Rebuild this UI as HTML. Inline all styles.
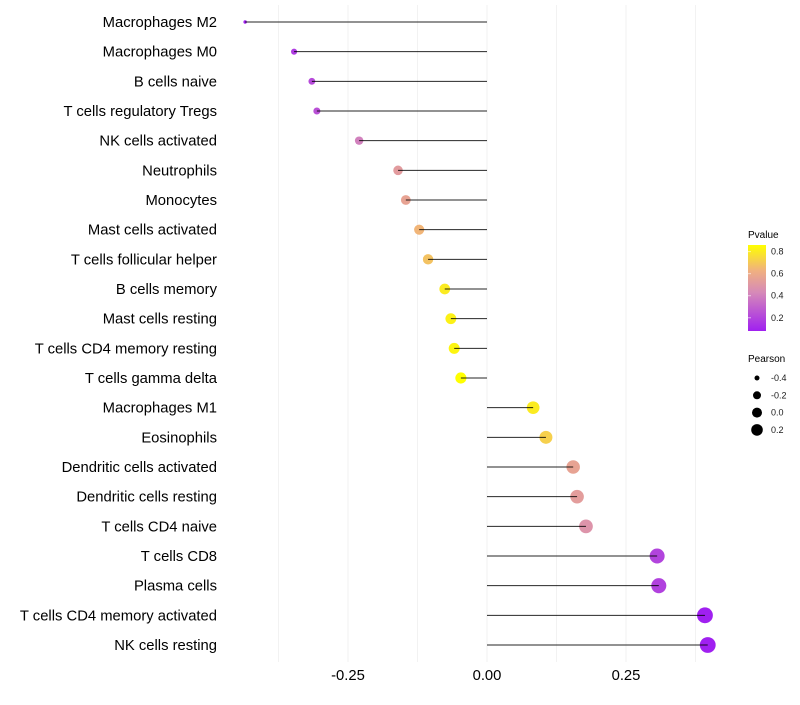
<!DOCTYPE html>
<html><head><meta charset="utf-8"><style>
body{margin:0;background:#fff;}
svg text{font-family:"Liberation Sans",sans-serif;}
</style></head><body>
<svg id="chart" width="800" height="700" xmlns="http://www.w3.org/2000/svg">
<defs><linearGradient id="pg" x1="0" y1="1" x2="0" y2="0">
<stop offset="0" stop-color="#A020F0"/><stop offset="0.45" stop-color="#D68AB8"/><stop offset="0.7" stop-color="#F0B080"/><stop offset="1" stop-color="#FFFF00"/></linearGradient></defs>
<g id="grid"></g>
<g id="marks"></g>
<g id="ylabels"></g>
<g id="xlabels"></g>
<g>
<text x="748" y="238" font-size="10">Pvalue</text>
<rect x="748" y="245" width="18" height="86" fill="url(#pg)"/>
<g id="pleg"></g>
</g>
<g>
<text x="748" y="362" font-size="10">Pearson</text>
<g id="sleg"></g>
</g>
</svg>
<script>
const categories=["Macrophages M2","Macrophages M0","B cells naive","T cells regulatory  Tregs","NK cells activated","Neutrophils","Monocytes","Mast cells activated","T cells follicular helper","B cells memory","Mast cells resting","T cells CD4 memory resting","T cells gamma delta","Macrophages M1","Eosinophils","Dendritic cells activated","Dendritic cells resting","T cells CD4 naive","T cells CD8","Plasma cells","T cells CD4 memory activated","NK cells resting"];
const pearson=[-0.435,-0.347,-0.315,-0.306,-0.230,-0.160,-0.146,-0.122,-0.106,-0.076,-0.065,-0.059,-0.047,0.083,0.106,0.155,0.162,0.178,0.306,0.309,0.392,0.397];
const pvalue=[0.05,0.17,0.22,0.24,0.4,0.52,0.56,0.64,0.68,0.8,0.82,0.83,0.88,0.8,0.72,0.56,0.53,0.48,0.2,0.19,0.08,0.07];
const xTicks=[-0.25,0,0.25];
const xTickLabels=["-0.25","0.00","0.25"];
const xMinor=[-0.375,-0.125,0.125,0.375];
const pLegVals=[0.8,0.6,0.4,0.2];
const sLegVals=[-0.4,-0.2,0.0,0.2];
const sLegLabels=["-0.4","-0.2","0.0","0.2"];
const NS="http://www.w3.org/2000/svg";
const X=v=>487+v*556;
const Y=i=>22+i*(623/21);
const R=v=>Math.sqrt(3+Math.max(0,(v+0.435)/0.832)*60);
function hex(c){return c.map(x=>Math.round(x).toString(16).padStart(2,'0')).join('');}
const stops=[[0,[160,32,240]],[0.45,[214,138,184]],[0.7,[240,176,128]],[1,[255,255,0]]];
function col(p){let t=(p-0.08)/(0.86-0.08);t=Math.max(0,Math.min(1,t));
for(let k=0;k<stops.length-1;k++){const a=stops[k],b=stops[k+1];if(t<=b[0]){const f=(t-a[0])/(b[0]-a[0]);return '#'+hex(a[1].map((c,j)=>c+(b[1][j]-c)*f));}}return '#ffff00';}
function mk(tag,attrs,parent){const e=document.createElementNS(NS,tag);for(const k in attrs)e.setAttribute(k,attrs[k]);parent.appendChild(e);return e;}
const grid=document.getElementById('grid');
xMinor.concat(xTicks).forEach(v=>{const l=mk('line',{x1:X(v),x2:X(v),y1:5,y2:662,stroke:'#f2f2f2','stroke-width':1},grid);

});
const marks=document.getElementById('marks'),yl=document.getElementById('ylabels'),xl=document.getElementById('xlabels');
categories.forEach((c,i)=>{
const pt=mk('circle',{cx:X(pearson[i]),cy:Y(i),r:R(pearson[i]),fill:col(pvalue[i])},marks);


const ln=mk('line',{x1:X(0),x2:X(pearson[i]),y1:Y(i),y2:Y(i),stroke:'#000','stroke-width':1,'stroke-opacity':0.85},marks);


const t=mk('text',{x:217,y:Y(i)+5,'font-size':14.8,'text-anchor':'end',fill:'#000','xml:space':'preserve'},yl);
t.textContent=c;


});
xTicks.forEach((v,i)=>{const t=mk('text',{x:X(v),y:680,'font-size':14.8,'text-anchor':'middle',fill:'#000'},xl);t.textContent=xTickLabels[i];

});
const pleg=document.getElementById('pleg');
pLegVals.forEach(v=>{const y=245+(0.86-v)/(0.78)*86;
const tk=mk('line',{x1:748,x2:751,y1:y,y2:y,stroke:'#fff','stroke-opacity':0.6},pleg);


const t=mk('text',{x:771,y:y+3,'font-size':9,fill:'#1a1a1a'},pleg);t.textContent=v.toFixed(1);

});
const sleg=document.getElementById('sleg');
const sLegR=[2.5,4,5,5.8];
sLegVals.forEach((v,i)=>{const y=378+i*17.3;
const c=mk('circle',{cx:757,cy:y,r:sLegR[i],fill:'#000'},sleg);


const t=mk('text',{x:771,y:y+3,'font-size':9,fill:'#1a1a1a'},sleg);t.textContent=sLegLabels[i];

});
</script>
</body></html>
